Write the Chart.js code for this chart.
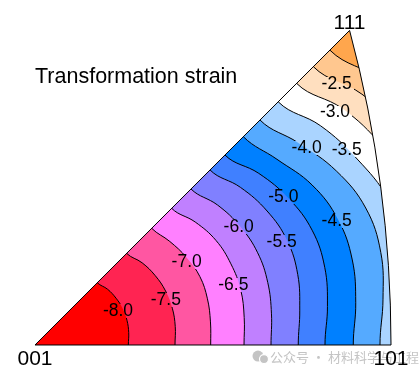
<!DOCTYPE html>
<html>
<head>
<meta charset="utf-8">
<script src="https://cdn.jsdelivr.net/npm/chart.js"></script>
<style>
html, body { margin: 0; padding: 0; background: #fff; }
#wrap { width: 420px; height: 373px; position: relative; }
</style>
</head>
<body>
<div id="wrap"><canvas id="ipf"></canvas></div>
<script>
// contour levels of the transformation strain (one per line)
const levels = [-8.0, -7.5, -7.0, -6.5, -6.0, -5.5, -5.0, -4.5, -4.0, -3.5, -3.0, -2.5, -2.0];
// angle from the 001-101 edge (deg) at which each contour radius was read
const angles = [0, 7.5, 15, 22.5, 30, 37.5, 45];
// contour radius from 001 in stereographic units
const r80 = [0.1086, 0.1100, 0.1108, 0.1105, 0.1089, 0.1065, 0.1025];
const r75 = [0.1629, 0.1646, 0.1654, 0.1644, 0.1615, 0.1571, 0.1508];
const r70 = [0.2044, 0.2059, 0.2077, 0.2077, 0.2036, 0.1978, 0.1920];
const r65 = [0.2432, 0.2455, 0.2478, 0.2467, 0.2432, 0.2350, 0.2249];
const r60 = [0.2746, 0.2775, 0.2804, 0.2804, 0.2757, 0.2676, 0.2567];
const r55 = [0.3063, 0.3107, 0.3165, 0.3176, 0.3118, 0.3013, 0.2880];
const r50 = [0.3374, 0.3432, 0.3490, 0.3490, 0.3409, 0.3281, 0.3126];
const r45 = [0.3703, 0.3764, 0.3822, 0.3816, 0.3723, 0.3549, 0.3428];
const r40 = [0.4014, 0.4084, 0.4165, 0.4165, 0.4049, 0.3863, 0.3702];
const r35 = [0.4340, 0.4398, 0.4456, 0.4445, 0.4328, 0.4189, 0.4002];
const r30 = [0.4654, 0.4712, 0.4770, 0.4759, 0.4654, 0.4514, 0.4305];
const r25 = [0.4945, 0.5003, 0.5073, 0.5061, 0.4945, 0.4794, 0.4580];
const r20 = [0.5236, 0.5294, 0.5364, 0.5352, 0.5236, 0.5073, 0.4852];
const radii = [r80, r75, r70, r65, r60, r55, r50, r45, r40, r35, r30, r25, r20];

// band colours, lowest band (below -8.0) first, top band (above -2.0) last
const bandColors = ['#ff0000', '#ff2452', '#ff56a2', '#ff80ff', '#c080ff', '#8080ff', '#4080ff',
                    '#0080ff', '#55aaff', '#aad4ff', '#ffffff', '#ffdfbf', '#ffc78f', '#ffa64d'];

// inline contour labels
const labelText = ['-8.0', '-7.5', '-7.0', '-6.5', '-6.0', '-5.5', '-5.0', '-4.5', '-4.0', '-3.5', '-3.0', '-2.5'];
const labelX = [0.0966, 0.1522, 0.1765, 0.2307, 0.2370, 0.2870, 0.2889, 0.3510, 0.3161, 0.3627, 0.3490, 0.3510];
const labelY = [0.0390, 0.0524, 0.0969, 0.0698, 0.1376, 0.1202, 0.1725, 0.1443, 0.2289, 0.2269, 0.2705, 0.3037];

// corners of the standard triangle (stereographic projection)
const cornerNames = ['001', '101', '111'];
const cornerX = [0, 0.4142, 0.3660];
const cornerY = [0, 0, 0.3660];

const title = 'Transformation strain';
const watermark = '公众号 · 材料科学与工程';

function toRad(d) { return d * Math.PI / 180; }

// each contour closes on 001; points just past the two mirror edges are the
// mirror images of the neighbouring readings so the curve meets the edges square
const datasets = radii.map((r, i) => {
  const p = angles.map((a, j) => ({x: r[j] * Math.cos(toRad(a)), y: r[j] * Math.sin(toRad(a))}));
  const n = p.length;
  const pts = [{x: 0, y: 0}, {x: p[1].x, y: -p[1].y}].concat(p, [{x: p[n - 2].y, y: p[n - 2].x}, {x: 0, y: 0}]);
  return {
    label: String(levels[i]),
    data: pts,
    showLine: true,
    fill: 'shape',
    backgroundColor: bandColors[i],
    borderColor: '#000',
    borderWidth: 1,
    pointRadius: 0,
    tension: 0.4,
    capBezierPoints: false
  };
});

function framePath(ctx, chart) {
  const xs = chart.scales.x, ys = chart.scales.y;
  const ox = xs.getPixelForValue(0), oy = ys.getPixelForValue(0);
  const cx = xs.getPixelForValue(-1);
  const R = xs.getPixelForValue(cornerX[1]) - cx;
  const a111 = Math.atan2(cornerY[2], cornerX[2] + 1);
  ctx.beginPath();
  ctx.moveTo(ox, oy);
  ctx.lineTo(xs.getPixelForValue(cornerX[1]), oy);
  ctx.arc(cx, oy, R, 0, -a111, true);
  ctx.closePath();
}

const labelFont = '17.5px "Liberation Sans", Arial, sans-serif';

const trianglePlugin = {
  id: 'triangle',
  beforeDatasetsDraw(chart) {
    const ctx = chart.ctx;
    ctx.save();
    framePath(ctx, chart);
    ctx.fillStyle = bandColors[bandColors.length - 1];
    ctx.fill();
    ctx.clip();
  },
  afterDatasetsDraw(chart) {
    const ctx = chart.ctx;
    const xs = chart.scales.x, ys = chart.scales.y;

    // break the contour lines under their labels (inline labels)
    ctx.font = labelFont;
    labelText.forEach((t, i) => {
      const w = Math.round(ctx.measureText(t).width + 4);
      const px = xs.getPixelForValue(labelX[i]), py = ys.getPixelForValue(labelY[i]);
      const bx = Math.round(px - w / 2), by = Math.round(py - 7);
      ctx.save();
      ctx.beginPath();
      ctx.rect(bx, by, w, 14);
      ctx.clip();
      ctx.fillStyle = bandColors[bandColors.length - 1];
      ctx.fillRect(bx, by, w, 14);
      for (let k = radii.length - 1; k >= 0; k--) {
        ctx.beginPath();
        chart.getDatasetMeta(k).dataset.path(ctx);
        ctx.closePath();
        ctx.fillStyle = bandColors[k];
        ctx.fill();
      }
      ctx.restore();
    });
    ctx.restore();

    ctx.save();
    framePath(ctx, chart);
    ctx.strokeStyle = '#000';
    ctx.lineWidth = 1;
    ctx.stroke();

    ctx.fillStyle = '#000';
    ctx.textAlign = 'center';
    ctx.textBaseline = 'middle';
    ctx.font = labelFont;
    labelText.forEach((t, i) => {
      ctx.fillText(t, xs.getPixelForValue(labelX[i]), ys.getPixelForValue(labelY[i]));
    });

    // watermark of the source image
    const wy = ys.getPixelForValue(-0.0140);
    ctx.fillStyle = '#c4c4c4';
    ctx.beginPath(); ctx.arc(258, wy - 1, 5.5, 0, 2 * Math.PI); ctx.fill();
    ctx.strokeStyle = '#fff'; ctx.lineWidth = 1.2;
    ctx.beginPath(); ctx.arc(264, wy + 2, 4.5, 0, 2 * Math.PI); ctx.fill(); ctx.stroke();
    ctx.textAlign = 'left';
    ctx.font = '13px "Noto Sans CJK SC", sans-serif';
    ctx.fillText(watermark, xs.getPixelForValue(0.2735), wy);

    ctx.fillStyle = '#000';
    ctx.textBaseline = 'alphabetic';
    ctx.font = '21.5px "Liberation Sans", Arial, sans-serif';
    ctx.fillText(title, xs.getPixelForValue(0), 83);
    ctx.textAlign = 'center';
    ctx.font = '21px "Liberation Sans", Arial, sans-serif';
    cornerNames.forEach((n, i) => {
      const px = xs.getPixelForValue(cornerX[i]);
      const py = ys.getPixelForValue(cornerY[i]);
      ctx.fillText(n, px, i === 2 ? py - 1 : py + 20);
    });
    ctx.restore();
  }
};

new Chart(document.getElementById('ipf'), {
  type: 'scatter',
  data: { datasets: datasets },
  options: {
    responsive: true,
    maintainAspectRatio: false,
    animation: false,
    events: [],
    layout: { padding: 0 },
    plugins: { legend: { display: false }, tooltip: { enabled: false }, title: { display: false } },
    scales: {
      x: { type: 'linear', min: -0.04072, max: 0.44794, display: false },
      y: { type: 'linear', min: -0.03258, max: 0.40140, display: false }
    }
  },
  plugins: [trianglePlugin]
});
</script>
</body>
</html>
